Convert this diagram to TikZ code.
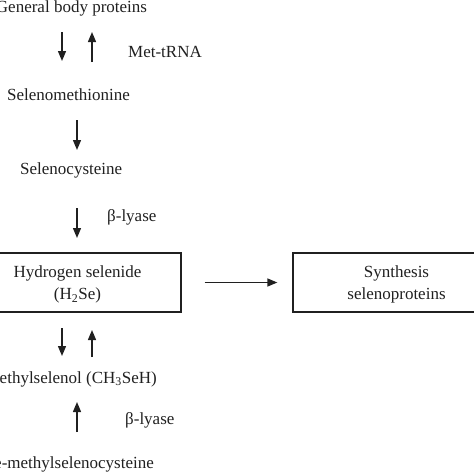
\documentclass[tikz,border=0pt]{standalone}
\usepackage{fontspec}
\setmainfont{Liberation Serif}
\usetikzlibrary{arrows.meta}
\definecolor{ink}{RGB}{32,32,32}
\begin{document}
\begin{tikzpicture}[x=1pt,y=-1pt,
  lbl/.style={inner sep=0pt, font=\fontsize{17}{22}\selectfont, text=ink},
  arr/.style={draw=ink, line width=1.4pt, -{Triangle[length=10pt,width=8pt]}},
  box/.style={draw=ink, line width=1.3pt, minimum width=207pt, minimum height=59pt,
    align=center, inner sep=0pt, font=\fontsize{17}{22}\selectfont, text=ink}]
\useasboundingbox (0,0) rectangle (474,474);
\clip (0,0) rectangle (474,474);
% texts
\node[lbl, anchor=base] (gbp) at (71.5,12) {General body proteins};
\node[lbl, anchor=base west] (met) at (128,57) {Met-tRNA};
\node[lbl, anchor=base west] (smet) at (7,100) {Selenomethionine};
\node[lbl, anchor=base west] (scys) at (20,174) {Selenocysteine};
\node[lbl, anchor=base west] (bl1) at (107,221) {β-lyase};
\node[box] (hse) at (77.5,282.5) {\rule{0pt}{16.6pt}Hydrogen selenide\\(H\textsubscript{2}Se)};
\node[box] (syn) at (396.5,282.5) {\rule{0pt}{16.6pt}Synthesis\\selenoproteins};
\node[lbl, anchor=base east] (msel) at (157,383) {Methylselenol (CH\textsubscript{3}SeH)};
\node[lbl, anchor=base west] (bl2) at (125,424) {β-lyase};
\node[lbl, anchor=base east] (smsc) at (154,468) {Se-methylselenocysteine};
% arrow end points
\coordinate (d1s) at (62,32);  \coordinate (d1e) at (62,61);
\coordinate (u1s) at (92,62);  \coordinate (u1e) at (92,32);
\coordinate (d2s) at (77,120); \coordinate (d2e) at (77,150);
\coordinate (d3s) at (77,208); \coordinate (d3e) at (77,238);
\coordinate (d4s) at (62,328); \coordinate (d4e) at (62,356);
\coordinate (u4s) at (92,357); \coordinate (u4e) at (92,330);
\coordinate (u5s) at (77,432); \coordinate (u5e) at (77,402);
% arrows
\draw[arr] (d1s) -- (d1e);
\draw[arr] (u1s) -- (u1e);
\draw[arr] (d2s) -- (d2e);
\draw[arr] (d3s) -- (d3e);
\draw[arr, shorten <=23pt, shorten >=15pt] (hse.east) -- (syn.west);
\draw[arr] (d4s) -- (d4e);
\draw[arr] (u4s) -- (u4e);
\draw[arr] (u5s) -- (u5e);
\end{tikzpicture}
\end{document}
